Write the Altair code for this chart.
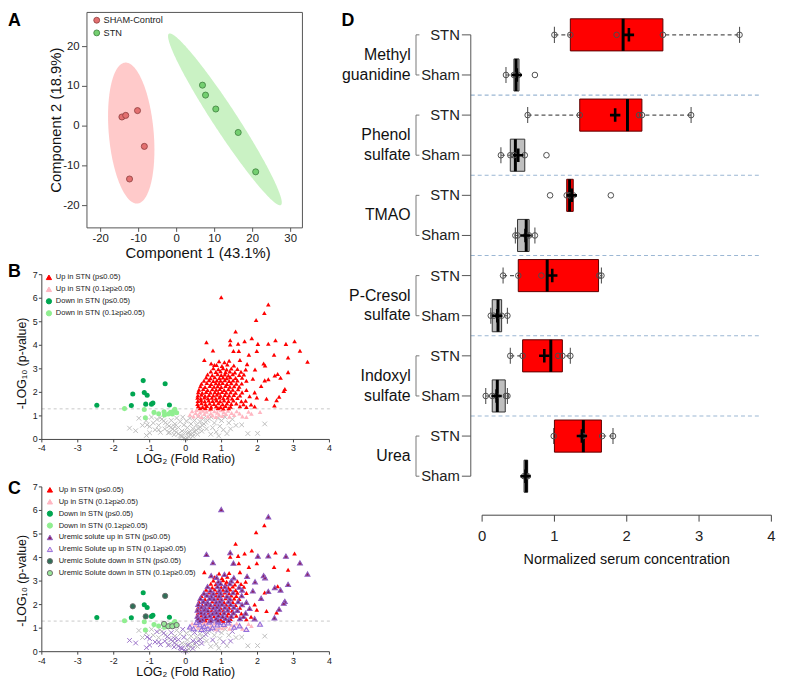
import numpy as np
import pandas as pd
import altair as alt

# ---------------- canvas / layout helpers ----------------
W, H = 782, 675
K = 0.985


def PX(rx):
    return round((rx - 2) * K, 2)


def PY(ry):
    return round(ry * K, 2)


FONT = "Liberation Sans"
XSHAPE = "M-1,-1L1,1M1,-1L-1,1"
CROSS = "M-1,0L1,0M0,-1.3L0,1.3"

# ======================= DATA =======================
# ---- Panel A : PCA scores ----
pca_groups = ["SHAM-Control", "STN"]
sham_pc1 = [-14.4, -13.4, -10.3, -8.5, -12.4]
sham_pc2 = [2.3, 2.7, 3.9, -5.1, -13.3]
stn_pc1 = [6.8, 7.6, 10.3, 16.2, 20.8]
stn_pc2 = [10.3, 7.8, 4.3, -1.6, -11.5]
pc1_ticks = [-20, -10, 0, 10, 20, 30]
pc2_ticks = [-20, -10, 0, 10, 20]
# confidence ellipses: centre pc1, centre pc2, semi-major, semi-minor, angle (deg)
sham_ellipse = [-11.95, -1.75, 17.8, 5.9, 95.3]
stn_ellipse = [12.7, 1.7, 26.1, 3.1, -55.6]

# ---- Panels B / C : volcano plots (log2 fold ratio, -log10 p, uremic solute flag) ----
p_threshold = [1.30]
lfc_ticks = [-4, -3, -2, -1, 0, 1, 2, 3, 4]
nlp_ticks = [0, 1, 2, 3, 4, 5, 6, 7]

up_pts = [
    (0.99, 6.04, 1), (2.30, 5.73, 1), (2.19, 5.37, 0), (1.96, 5.07, 0), (1.39, 4.59, 0),
    (0.58, 4.13, 1), (1.24, 4.21, 1), (1.46, 4.07, 0), (1.64, 4.17, 0), (1.84, 4.30, 0),
    (2.01, 4.06, 1), (2.30, 4.07, 1), (2.50, 4.21, 0), (2.79, 4.06, 1), (3.03, 4.17, 0),
    (3.18, 3.77, 1), (3.39, 3.30, 1), (0.76, 3.78, 1), (0.52, 3.38, 0), (2.85, 3.48, 0),
    (2.46, 3.60, 0), (1.98, 3.76, 0), (1.76, 3.60, 0), (2.17, 3.23, 1), (2.21, 3.14, 1),
    (2.85, 2.86, 1), (2.56, 2.78, 0), (2.48, 2.72, 1), (2.64, 2.62, 1), (2.30, 2.56, 1),
    (2.20, 2.51, 0), (2.76, 2.14, 1), (2.73, 2.06, 1), (2.60, 1.81, 1), (2.53, 1.67, 0),
    (2.25, 1.73, 0), (2.10, 2.27, 1), (2.47, 1.44, 1), (1.98, 1.78, 0), (1.92, 1.40, 1),
    (1.82, 1.48, 0), (1.78, 1.84, 1), (1.92, 2.00, 0), (1.69, 2.10, 1), (1.87, 2.58, 1),
    (1.93, 2.97, 1), (1.71, 3.20, 1), (1.67, 2.97, 0), (1.51, 3.38, 0), (1.33, 3.76, 1),
    (1.24, 4.03, 0), (1.48, 3.76, 0), (0.71, 3.23, 1), (0.80, 3.16, 0), (0.70, 2.89, 0),
    (0.93, 3.32, 0), (1.08, 3.28, 1), (1.21, 3.34, 0),
    (0.86, 3.16, 1), (1.01, 3.12, 0), (1.16, 3.18, 0), (1.34, 3.14, 1),
    (0.77, 3.02, 0), (0.91, 2.98, 1), (1.04, 3.03, 0), (1.14, 2.97, 0), (1.27, 3.01, 1), (1.44, 2.99, 0),
    (0.84, 2.87, 0), (0.97, 2.90, 1), (1.11, 2.86, 0), (1.23, 2.89, 1), (1.37, 2.85, 0), (1.54, 2.88, 0),
    (0.61, 2.76, 1), (0.74, 2.73, 0), (0.89, 2.77, 1), (0.99, 2.74, 0), (1.09, 2.76, 1), (1.19, 2.72, 0),
    (1.31, 2.77, 0), (1.49, 2.74, 1), (1.62, 2.76, 0),
    (0.57, 2.63, 0), (0.69, 2.60, 1), (0.81, 2.64, 0), (0.94, 2.61, 1), (1.04, 2.63, 0), (1.14, 2.60, 1),
    (1.24, 2.64, 0), (1.39, 2.61, 0), (1.57, 2.62, 1),
    (0.51, 2.49, 1), (0.65, 2.52, 0), (0.77, 2.48, 1), (0.87, 2.51, 0), (0.97, 2.49, 1), (1.09, 2.52, 0),
    (1.21, 2.48, 0), (1.32, 2.51, 1), (1.44, 2.50, 0), (1.69, 2.49, 0),
    (0.44, 2.37, 0), (0.59, 2.40, 1), (0.71, 2.36, 1), (0.84, 2.39, 0), (0.93, 2.37, 1), (1.03, 2.40, 0),
    (1.15, 2.36, 1), (1.27, 2.39, 0), (1.41, 2.37, 0), (1.56, 2.38, 1),
    (0.41, 2.26, 1), (0.54, 2.23, 0), (0.67, 2.27, 1), (0.79, 2.24, 1), (0.89, 2.26, 0), (0.99, 2.23, 1),
    (1.11, 2.27, 0), (1.23, 2.24, 1), (1.35, 2.26, 0), (1.49, 2.24, 0),
    (0.37, 2.11, 0), (0.49, 2.14, 1), (0.61, 2.10, 1), (0.74, 2.13, 0), (0.85, 2.11, 1), (0.95, 2.14, 1),
    (1.07, 2.10, 0), (1.19, 2.13, 1), (1.31, 2.11, 0), (1.46, 2.13, 1),
    (0.35, 2.01, 1), (0.46, 1.98, 0), (0.57, 2.02, 1), (0.69, 1.99, 1), (0.81, 2.01, 0), (0.91, 1.98, 1),
    (1.01, 2.02, 1), (1.13, 1.99, 0), (1.25, 2.01, 1), (1.39, 1.98, 0), (1.57, 2.00, 1),
    (0.34, 1.87, 0), (0.44, 1.90, 1), (0.54, 1.86, 1), (0.65, 1.89, 0), (0.77, 1.87, 1), (0.87, 1.90, 1),
    (0.97, 1.86, 0), (1.09, 1.89, 1), (1.21, 1.87, 0), (1.34, 1.89, 1), (1.51, 1.87, 0),
    (0.33, 1.77, 1), (0.42, 1.74, 0), (0.52, 1.78, 1), (0.62, 1.75, 1), (0.73, 1.77, 0), (0.84, 1.74, 1),
    (0.94, 1.78, 1), (1.05, 1.75, 0), (1.17, 1.77, 1), (1.29, 1.74, 0), (1.44, 1.76, 1),
    (0.34, 1.63, 0), (0.43, 1.66, 1), (0.53, 1.62, 1), (0.64, 1.65, 0), (0.75, 1.63, 1), (0.86, 1.66, 1),
    (0.96, 1.62, 0), (1.07, 1.65, 1), (1.19, 1.63, 0), (1.33, 1.65, 1), (1.55, 1.62, 0), (1.67, 1.64, 1),
    (0.33, 1.51, 1), (0.44, 1.54, 0), (0.55, 1.50, 1), (0.67, 1.53, 1), (0.79, 1.51, 0), (0.91, 1.54, 1),
    (1.03, 1.50, 1), (1.15, 1.53, 0), (1.27, 1.51, 1), (1.41, 1.53, 0), (1.61, 1.50, 1),
    (0.35, 1.41, 1), (0.47, 1.38, 1), (0.59, 1.42, 0), (0.71, 1.39, 1), (0.85, 1.41, 1), (0.97, 1.38, 0),
    (1.11, 1.42, 1), (1.25, 1.39, 0), (1.51, 1.41, 1), (1.69, 1.38, 0),
    (0.40, 1.33, 1), (0.55, 1.34, 0), (0.70, 1.32, 1), (0.90, 1.34, 1), (1.05, 1.32, 0), (1.20, 1.33, 1),
]
up_trend_pts = [
    (0.12, 1.05, 1), (0.18, 1.20, 0), (0.22, 0.98, 1), (0.28, 1.12, 0), (0.30, 1.25, 1), (0.35, 1.02, 0),
    (0.40, 1.15, 1), (0.44, 0.95, 1), (0.48, 1.22, 0), (0.52, 1.08, 1), (0.58, 1.18, 0), (0.62, 0.98, 1),
    (0.66, 1.26, 1), (0.70, 1.10, 0), (0.75, 1.02, 1), (0.80, 1.20, 0), (0.84, 0.95, 0), (0.88, 1.14, 1),
    (0.93, 1.05, 0), (0.98, 1.24, 1), (1.02, 1.00, 0), (1.06, 1.16, 1), (1.12, 1.08, 0), (1.18, 1.22, 1),
    (1.22, 0.97, 0), (1.28, 1.12, 0), (1.35, 1.04, 1), (1.42, 1.20, 0), (1.50, 1.10, 1), (1.58, 0.98, 0),
    (1.69, 0.95, 1), (1.75, 1.18, 0), (1.83, 1.09, 0), (2.07, 1.17, 1), (0.55, 1.28, 0), (0.90, 1.28, 1),
]
down_pts = [
    (-2.47, 1.45, 0), (-1.51, 1.44, 0), (-1.47, 1.93, 1), (-1.18, 2.50, 0), (-1.15, 1.99, 0),
    (-1.07, 1.88, 0), (-1.11, 1.50, 1), (-0.95, 1.50, 0), (-0.91, 1.55, 0), (-0.57, 2.37, 1),
    (-0.45, 1.46, 0),
]
down_trend_pts = [
    (-1.70, 1.31, 0), (-1.15, 1.27, 0), (-1.12, 0.92, 0), (-0.88, 1.15, 0), (-0.75, 1.09, 0),
    (-0.60, 1.18, 1), (-0.59, 1.04, 0), (-0.48, 1.08, 1), (-0.42, 1.15, 0), (-0.37, 1.08, 1),
    (-0.33, 1.22, 0), (-0.25, 1.13, 1), (-0.30, 1.28, 0),
]
ns_pts = [
    (0.00, 0.03, 1), (0.04, 0.07, 0), (-0.05, 0.06, 1), (0.09, 0.12, 0), (-0.10, 0.13, 1), (0.14, 0.19, 0),
    (-0.15, 0.17, 1), (0.19, 0.26, 0), (-0.20, 0.24, 1), (0.24, 0.32, 0), (-0.26, 0.31, 0), (0.30, 0.39, 1),
    (-0.31, 0.37, 1), (0.35, 0.46, 0), (-0.36, 0.44, 0), (0.41, 0.52, 1), (-0.41, 0.51, 1), (0.46, 0.60, 0),
    (-0.46, 0.57, 0), (0.51, 0.66, 0), (-0.51, 0.64, 1), (0.56, 0.73, 1), (-0.56, 0.71, 0), (0.61, 0.81, 0),
    (-0.61, 0.79, 1), (0.66, 0.88, 0), (-0.66, 0.86, 0), (0.71, 0.95, 1), (-0.71, 0.93, 0),
    (0.10, 0.31, 0), (0.20, 0.46, 1), (0.30, 0.62, 0), (0.40, 0.76, 0), (0.50, 0.90, 1), (-0.10, 0.36, 0),
    (-0.20, 0.51, 1), (-0.30, 0.66, 0), (-0.40, 0.81, 1), (0.05, 0.50, 0), (0.15, 0.66, 0), (0.25, 0.81, 1),
    (0.35, 0.96, 0), (-0.05, 0.61, 1), (-0.15, 0.76, 0), (-0.25, 0.91, 0), (0.00, 0.30, 0), (0.12, 0.90, 0),
    (-0.08, 0.95, 1), (0.02, 0.78, 0), (-0.32, 0.20, 1), (0.33, 0.22, 0), (0.45, 0.35, 1), (-0.45, 0.30, 0),
    (0.58, 0.45, 0), (-0.58, 0.45, 1),
    (0.75, 0.50, 1), (0.80, 0.70, 0), (0.85, 0.32, 0), (0.90, 0.90, 1), (0.95, 0.56, 0), (1.00, 0.80, 0),
    (1.05, 0.41, 1), (1.10, 0.95, 0), (1.20, 0.70, 0), (1.30, 0.86, 1), (1.40, 0.60, 0), (1.56, 0.62, 0),
    (1.73, 0.25, 0), (2.00, 0.26, 0), (2.20, 0.66, 0), (1.15, 0.25, 0), (0.70, 0.22, 0), (0.92, 0.15, 0),
    (1.25, 0.45, 1),
    (-0.75, 0.60, 0), (-0.80, 0.85, 1), (-0.85, 0.41, 1), (-0.90, 0.70, 0), (-0.95, 0.95, 0), (-1.00, 0.55, 1),
    (-1.10, 0.80, 0), (-1.09, 0.17, 1), (-1.20, 0.60, 0), (-1.39, 0.37, 1), (-1.56, 0.48, 1), (-1.30, 0.90, 0),
    (-0.70, 0.30, 1), (-1.00, 0.28, 1), (-1.07, 0.62, 1), (-0.75, 0.41, 1), (-0.48, 0.28, 1), (-0.30, 0.55, 1),
    (-0.12, 0.14, 1), (0.06, 0.28, 1), (0.20, 0.14, 1),
]
legend_b_labels = ["Up in STN (p≤0.05)", "Up in STN (0.1≥p≥0.05)",
                   "Down in STN (p≤0.05)", "Down in STN (0.1≥p≥0.05)"]
legend_c_extra = ["Uremic solute up in STN (p≤0.05)", "Uremic Solute up in STN (0.1≥p≥0.05)",
                  "Uremic Solute down in STN (p≤0.05)", "Uremic Solute down in STN (0.1≥p≥0.05)"]

# ---- Panel D : serum uremic solutes ----
metabolites = ["Methyl\nguanidine", "Phenol\nsulfate", "TMAO", "P-Cresol\nsulfate", "Indoxyl\nsulfate", "Urea"]
groups = ["STN", "Sham"]
box_q1 = [1.22, 0.44, 1.35, 0.39, 1.17, 0.49, 0.50, 0.14, 0.56, 0.14, 1.00, 0.58]
box_median = [1.95, 0.47, 2.01, 0.46, 1.21, 0.61, 0.90, 0.22, 0.95, 0.21, 1.40, 0.61]
box_q3 = [2.50, 0.51, 2.21, 0.59, 1.26, 0.65, 1.61, 0.27, 1.11, 0.32, 1.65, 0.63]
whisker_lo = [1.00, 0.33, 0.63, 0.26, 1.17, 0.46, 0.29, 0.12, 0.39, 0.05, 0.99, 0.58]
whisker_hi = [3.56, 0.51, 2.89, 0.59, 1.26, 0.73, 1.65, 0.35, 1.22, 0.35, 1.81, 0.63]
group_mean = [2.03, 0.48, 1.84, 0.50, 1.24, 0.60, 0.97, 0.21, 0.86, 0.20, 1.38, 0.60]
sample_values = [
    [1.00, 1.22, 1.86, 2.50, 3.56],
    [0.33, 0.44, 0.47, 0.50, 0.73],
    [0.63, 1.35, 2.17, 2.21, 2.89],
    [0.26, 0.39, 0.44, 0.59, 0.89],
    [0.94, 1.17, 1.21, 1.26, 1.78],
    [0.46, 0.49, 0.61, 0.65, 0.73],
    [0.29, 0.50, 0.82, 1.62, 1.65],
    [0.12, 0.16, 0.22, 0.27, 0.35],
    [0.39, 0.56, 1.05, 1.11, 1.22],
    [0.05, 0.14, 0.20, 0.33, 0.35],
    [0.99, 1.38, 1.40, 1.66, 1.81],
    [0.58, 0.60, 0.61, 0.63],
]
conc_ticks = [0, 1, 2, 3, 4]

panel_letters = ["A", "B", "C", "D"]


# ======================= AXIS HELPERS (drawn with marks through the scales) =======================
def h_axis(scale, ticks, y0, tick_len, label_y, fs, color="#444", domain=True, labels=None):
    labs = labels if labels is not None else [str(t) for t in ticks]
    df = pd.DataFrame({"v": ticks, "lab": labs})
    layers = []
    if domain:
        layers.append(
            alt.Chart(pd.DataFrame({"a": [min(ticks)], "b": [max(ticks)]})).mark_rule(
                color=color, strokeWidth=1).encode(
                x=alt.X("a:Q", scale=scale, axis=None), x2="b:Q", y=alt.value(PY(y0))))
    layers.append(
        alt.Chart(df).mark_rule(color=color, strokeWidth=1).encode(
            x=alt.X("v:Q", scale=scale, axis=None), y=alt.value(PY(y0)), y2=alt.value(PY(y0) + tick_len)))
    layers.append(
        alt.Chart(df).mark_text(fontSize=fs, align="center", baseline="middle", color="#222").encode(
            x=alt.X("v:Q", scale=scale, axis=None), y=alt.value(PY(label_y)), text="lab:N"))
    return layers


def v_axis(scale, ticks, x0, tick_len, label_x, fs, color="#444", domain=True, labels=None):
    labs = labels if labels is not None else [str(t) for t in ticks]
    df = pd.DataFrame({"v": ticks, "lab": labs})
    layers = []
    if domain:
        layers.append(
            alt.Chart(pd.DataFrame({"a": [min(ticks)], "b": [max(ticks)]})).mark_rule(
                color=color, strokeWidth=1).encode(
                x=alt.value(PX(x0)), y=alt.Y("a:Q", scale=scale, axis=None), y2="b:Q"))
    layers.append(
        alt.Chart(df).mark_rule(color=color, strokeWidth=1).encode(
            x=alt.value(PX(x0) - tick_len), x2=alt.value(PX(x0)), y=alt.Y("v:Q", scale=scale, axis=None)))
    layers.append(
        alt.Chart(df).mark_text(fontSize=fs, align="right", baseline="middle", color="#222").encode(
            x=alt.value(PX(label_x)), y=alt.Y("v:Q", scale=scale, axis=None), text="lab:N"))
    return layers


def title_text(txt, x, y, fs, angle=0):
    return alt.Chart(pd.DataFrame({"t": [txt]})).mark_text(
        fontSize=fs, angle=angle, align="center", baseline="middle", color="#111").encode(
        text="t:N", x=alt.value(PX(x)), y=alt.value(PY(y)))


# ======================= PANEL A =======================
sxA = alt.Scale(domain=[-23.6, 33.1], range=[PX(83), PX(304)], nice=False, zero=False)
syA = alt.Scale(domain=[-25.6, 28.6], range=[PY(222), PY(1)], nice=False, zero=False)


def ellipse_band(cx, cy, a, b, ang, n=140):
    t = np.radians(ang)
    c, s = np.cos(t), np.sin(t)
    A_ = c * c / a ** 2 + s * s / b ** 2
    B_ = 2 * c * s * (1 / a ** 2 - 1 / b ** 2)
    C_ = s * s / a ** 2 + c * c / b ** 2
    xmax = np.sqrt(4 * C_ / (4 * A_ * C_ - B_ * B_))
    X = xmax * np.cos(np.linspace(np.pi, 0, n))
    disc = np.clip(B_ * B_ * X * X - 4 * C_ * (A_ * X * X - 1), 0, None)
    lo = (-B_ * X - np.sqrt(disc)) / (2 * C_)
    hi = (-B_ * X + np.sqrt(disc)) / (2 * C_)
    return pd.DataFrame({"x": cx + X, "lo": cy + lo, "hi": cy + hi})


dfA = pd.DataFrame({
    "pc1": sham_pc1 + stn_pc1,
    "pc2": sham_pc2 + stn_pc2,
    "group": [pca_groups[0]] * len(sham_pc1) + [pca_groups[1]] * len(stn_pc1),
})
A_COL = {pca_groups[0]: ("#e37070", "#8c3b3b", "#ffcaca"), pca_groups[1]: ("#74cf70", "#3b7d3b", "#caf2c4")}


def ell_layer(params, col):
    return alt.Chart(ellipse_band(*params)).mark_area(color=col, opacity=1).encode(
        x=alt.X("x:Q", scale=sxA, axis=None),
        y=alt.Y("lo:Q", scale=syA, axis=None),
        y2="hi:Q",
    )


frameA = alt.Chart(pd.DataFrame({"f": [0]})).mark_rect(fill="transparent", stroke="#555", strokeWidth=1).encode(
    x=alt.value(PX(83)), x2=alt.value(PX(304)), y=alt.value(PY(1)), y2=alt.value(PY(222)))

ptsA = []
for g in pca_groups:
    fill, stroke, _ = A_COL[g]
    ptsA.append(
        alt.Chart(dfA).transform_filter(f"datum.group == '{g}'").mark_point(
            filled=True, fill=fill, stroke=stroke, strokeWidth=0.8, size=38, opacity=1).encode(
            x=alt.X("pc1:Q", scale=sxA, axis=None),
            y=alt.Y("pc2:Q", scale=syA, axis=None),
        )
    )

panelA = alt.layer(
    ell_layer(sham_ellipse, A_COL[pca_groups[0]][2]),
    ell_layer(stn_ellipse, A_COL[pca_groups[1]][2]),
    frameA,
    *h_axis(sxA, pc1_ticks, 222, 4, 233, 11.5, color="#555", domain=False),
    *v_axis(syA, pc2_ticks, 83, 5, 75.5, 11.5, color="#555", domain=False),
    title_text("Component 1 (43.1%)", 197, 248, 15),
    title_text("Component 2 (18.9%)", 51.5, 111.5, 15, angle=270),
    *ptsA,
)

legA_df = pd.DataFrame({"row": [0, 1], "label": pca_groups,
                        "fill": [A_COL[g][0] for g in pca_groups],
                        "stroke": [A_COL[g][1] for g in pca_groups]})
legA_scale = alt.Scale(domain=[0, 1], range=[PY(9), PY(22)], nice=False, zero=False)
legendA = alt.layer(
    alt.Chart(legA_df).mark_point(filled=True, size=36, opacity=1, strokeWidth=0.8).encode(
        x=alt.value(PX(93)), y=alt.Y("row:Q", scale=legA_scale, axis=None),
        fill=alt.Fill("fill:N", scale=None), stroke=alt.Stroke("stroke:N", scale=None)),
    alt.Chart(legA_df).mark_text(align="left", baseline="middle", fontSize=9.3, color="#222").encode(
        x=alt.value(PX(100)), y=alt.Y("row:Q", scale=legA_scale, axis=None), text="label:N"),
)

# ======================= PANELS B / C =======================
cats = [("ns", ns_pts), ("up_trend", up_trend_pts), ("down_trend", down_trend_pts),
        ("up", up_pts), ("down", down_pts)]
vol = pd.DataFrame(
    [(x, y, u, c) for c, pts in cats for (x, y, u) in pts],
    columns=["lfc", "nlp", "u", "cat"],
)

STY = {
    "ns": dict(shape=XSHAPE, filled=False, color="#bdbdbd", size=22, strokeWidth=1),
    "up_trend": dict(shape="triangle-up", filled=True, color="#ffb6c1", size=22),
    "down_trend": dict(shape="circle", filled=True, color="#90ee90", size=26),
    "up": dict(shape="triangle-up", filled=True, color="#ff0000", size=22),
    "down": dict(shape="circle", filled=True, color="#00a651", size=26),
}
USTY = {
    "ns": dict(shape=XSHAPE, filled=False, color="#9b72c8", size=22, strokeWidth=1),
    "up_trend": dict(shape="triangle-up", filled=True, fill="#f6cce6", stroke="#9370db", strokeWidth=1.1, size=24),
    "down_trend": dict(shape="circle", filled=True, fill="#98e698", stroke="#6d6d6d", strokeWidth=1, size=28),
    "up": dict(shape="triangle-up", filled=True, fill="#8b1f5a", stroke="#8e5cc0", strokeWidth=1.1, size=24),
    "down": dict(shape="circle", filled=True, fill="#2f6f57", stroke="#6d6d6d", strokeWidth=1, size=28),
}

sxV = alt.Scale(domain=[-4, 4], range=[PX(36.7), PX(331.7)], nice=False, zero=False)


def volcano(y_bottom, y_top, ytitle_center, uremic):
    syV = alt.Scale(domain=[0, 7], range=[PY(y_bottom), PY(y_top)], nice=False, zero=False)
    layers = [
        alt.Chart(pd.DataFrame({"thr": p_threshold})).mark_rule(
            color="#c8c8c8", strokeDash=[3, 3], strokeWidth=1).encode(
            x=alt.value(PX(36.7)), x2=alt.value(PX(333)), y=alt.Y("thr:Q", scale=syV, axis=None))
    ]
    for c in ["ns", "up_trend", "down_trend", "up", "down"]:
        variants = [(0, STY[c]), (1, USTY[c])] if uremic else [(None, STY[c])]
        for u, props in variants:
            expr = f"datum.cat == '{c}'" + ("" if u is None else f" && datum.u == {u}")
            layers.append(
                alt.Chart(vol).transform_filter(expr).mark_point(opacity=1, **props).encode(
                    x=alt.X("lfc:Q", scale=sxV, axis=None),
                    y=alt.Y("nlp:Q", scale=syV, axis=None),
                )
            )
    layers += h_axis(sxV, lfc_ticks, y_bottom, 3, y_bottom + 9.3, 9)
    layers += v_axis(syV, nlp_ticks, 36.7, 3, 32.5, 9)
    layers.append(title_text("LOG₂ (Fold Ratio)", 184.3, y_bottom + 20.5, 12.5))
    layers.append(title_text("-LOG₁₀ (p-value)", 16.5, ytitle_center, 12.5, angle=270))
    return alt.layer(*layers)


def vlegend(labels, styles, x_marker, x_text, y0, step):
    n = len(labels)
    df = pd.DataFrame({
        "row": list(range(n)), "label": labels,
        "shape": [s["shape"] for s in styles],
        "fill": [s.get("fill", s.get("color")) for s in styles],
        "stroke": [s.get("stroke", s.get("fill", s.get("color"))) for s in styles],
    })
    sc = alt.Scale(domain=[0, n - 1], range=[PY(y0), PY(y0 + step * (n - 1))], nice=False, zero=False)
    return alt.layer(
        alt.Chart(df).mark_point(filled=True, size=28, opacity=1, strokeWidth=1).encode(
            x=alt.value(PX(x_marker)), y=alt.Y("row:Q", scale=sc, axis=None),
            shape=alt.Shape("shape:N", scale=None), fill=alt.Fill("fill:N", scale=None),
            stroke=alt.Stroke("stroke:N", scale=None)),
        alt.Chart(df).mark_text(align="left", baseline="middle", fontSize=7.6, color="#222").encode(
            x=alt.value(PX(x_text)), y=alt.Y("row:Q", scale=sc, axis=None), text="label:N"),
    )


order4 = ["up", "up_trend", "down", "down_trend"]
panelB = volcano(439, 270, 361, False)
legendB = vlegend(legend_b_labels, [STY[c] for c in order4], 44, 51, 272.7, 12.3)
panelC = volcano(656.7, 487.7, 584, True)
legendC = vlegend(legend_b_labels + legend_c_extra, [STY[c] for c in order4] + [USTY[c] for c in order4],
                  45, 54, 490.7, 12.2)

# ======================= PANEL D =======================
n_rows = len(box_q1)
dfD = pd.DataFrame({
    "idx": list(range(n_rows)),
    "group": [groups[i % 2] for i in range(n_rows)],
    "q1": box_q1, "med": box_median, "q3": box_q3,
    "lo": whisker_lo, "hi": whisker_hi, "mean": group_mean,
})
dfP = pd.DataFrame([(i, v) for i, vals in enumerate(sample_values) for v in vals], columns=["idx", "value"])
dfG = pd.DataFrame({
    "label": metabolites,
    "mid": [2 * i + 0.5 for i in range(len(metabolites))],
    "top": [2 * i for i in range(len(metabolites))],
    "bot": [2 * i + 1 for i in range(len(metabolites))],
})
dfDiv = pd.DataFrame({"div": [2 * i + 1.5 for i in range(len(metabolites) - 1)]})

sxD = alt.Scale(domain=[0, 4], range=[PX(488.3), PX(785)], nice=False, zero=False)
syD = alt.Scale(domain=[0, n_rows - 1], range=[PY(24), PY(476.7)], nice=False, zero=False)


def yD(f):
    return alt.Y(f, scale=syD, axis=None)


dividers = alt.Chart(dfDiv).mark_rule(color="#9bb7d4", strokeDash=[4, 3], strokeWidth=1.2).encode(
    x=alt.value(PX(476.7)), x2=alt.value(PX(773)), y=yD("div:Q"))
brackets = alt.Chart(dfG).mark_rule(color="#777", strokeWidth=1).encode(
    x=alt.value(PX(420.5)), y=yD("top:Q"), y2="bot:Q")
bracket_ticks = alt.Chart(dfD).mark_rule(color="#777", strokeWidth=1).encode(
    x=alt.value(PX(420.5)), x2=alt.value(PX(424)), y=yD("idx:Q"))
group_labels = alt.Chart(dfG).mark_text(align="right", baseline="middle", fontSize=16, lineBreak="\n",
                                        lineHeight=20, color="#111").encode(
    x=alt.value(PX(415)), y=yD("mid:Q"), text="label:N")
whiskers = alt.Chart(dfD).mark_rule(color="#555", strokeDash=[4, 3], strokeWidth=1.1).encode(
    x=alt.X("lo:Q", scale=sxD, axis=None), x2="hi:Q", y=yD("idx:Q"))
wt_lo = alt.Chart(dfD).transform_filter("datum.lo < datum.q1").transform_calculate(
    t0="datum.idx - 0.2", t1="datum.idx + 0.2").mark_rule(color="#555", strokeWidth=1.1).encode(
    x=alt.X("lo:Q", scale=sxD, axis=None), y=yD("t0:Q"), y2="t1:Q")
wt_hi = alt.Chart(dfD).transform_filter("datum.hi > datum.q3").transform_calculate(
    t0="datum.idx - 0.2", t1="datum.idx + 0.2").mark_rule(color="#555", strokeWidth=1.1).encode(
    x=alt.X("hi:Q", scale=sxD, axis=None), y=yD("t0:Q"), y2="t1:Q")
box_stn = alt.Chart(dfD).transform_filter(f"datum.group == '{groups[0]}'").transform_calculate(
    b0="datum.idx - 0.4", b1="datum.idx + 0.4").mark_rect(fill="#ff0000", stroke="#5c0000", strokeWidth=1).encode(
    x=alt.X("q1:Q", scale=sxD, axis=None), x2="q3:Q", y=yD("b0:Q"), y2="b1:Q")
box_sham = alt.Chart(dfD).transform_filter(f"datum.group == '{groups[1]}'").transform_calculate(
    b0="datum.idx - 0.4", b1="datum.idx + 0.4").mark_rect(fill="#bfbfbf", stroke="#333", strokeWidth=1).encode(
    x=alt.X("q1:Q", scale=sxD, axis=None), x2="q3:Q", y=yD("b0:Q"), y2="b1:Q")
medians = alt.Chart(dfD).transform_calculate(
    b0="datum.idx - 0.4", b1="datum.idx + 0.4").mark_rule(color="black", strokeWidth=3).encode(
    x=alt.X("med:Q", scale=sxD, axis=None), y=yD("b0:Q"), y2="b1:Q")
pointsD = alt.Chart(dfP).mark_point(shape="circle", filled=False, color="#4d4d4d", size=32,
                                   strokeWidth=1, opacity=1).encode(
    x=alt.X("value:Q", scale=sxD, axis=None), y=yD("idx:Q"))
meansD = alt.Chart(dfD).mark_point(shape=CROSS, filled=False, color="black", size=110,
                                   strokeWidth=2.6, opacity=1).encode(
    x=alt.X("mean:Q", scale=sxD, axis=None), y=yD("idx:Q"))

panelD = alt.layer(
    dividers, brackets, bracket_ticks, group_labels, whiskers, wt_lo, wt_hi,
    box_stn, box_sham, medians, pointsD, meansD,
    *h_axis(sxD, conc_ticks, 516.7, 6.5, 538, 15, color="#444"),
    *v_axis(syD, list(range(n_rows)), 476.7, 9, 465.5, 15, color="#555",
            labels=[groups[i % 2] for i in range(n_rows)]),
    title_text("Normalized serum concentration", 636.7, 563, 14.5),
)

# ======================= PANEL LETTERS =======================
letter_pos = {"A": (2, 15), "B": (2, 272), "C": (2, 495), "D": (344, 15)}
letters = [
    alt.Chart(pd.DataFrame({"t": [l]})).mark_text(fontSize=18, fontWeight="bold", align="left",
                                                   baseline="alphabetic", color="#000").encode(
        text="t:N", x=alt.value(PX(letter_pos[l][0])), y=alt.value(PY(letter_pos[l][1])))
    for l in panel_letters
]

chart = alt.layer(panelA, legendA, panelB, legendB, panelC, legendC, panelD, *letters).resolve_scale(
    x="independent", y="independent").properties(
    width=W, height=H, autosize=alt.AutoSizeParams(type="none"), padding=0
).configure(font=FONT).configure_view(stroke="transparent")

chart.save("out.html", embed_options={"renderer": "svg", "actions": False})
